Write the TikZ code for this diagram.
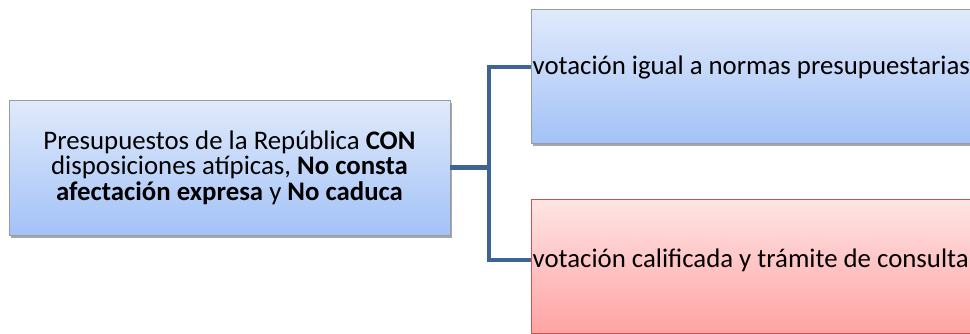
\documentclass[tikz,border=0pt]{standalone}
\usepackage{fontspec}
\setmainfont{Carlito}
\usetikzlibrary{shadows}
\definecolor{linec}{RGB}{62,100,150}
\definecolor{bluetop}{RGB}{224,234,251}
\definecolor{bluebot}{RGB}{163,194,247}
\definecolor{bluedraw}{RGB}{150,155,165}
\definecolor{redtop}{RGB}{255,228,228}
\definecolor{redbot}{RGB}{255,163,163}
\definecolor{reddraw}{RGB}{195,85,82}
\tikzset{
  boxshadow/.style={drop shadow={shadow xshift=2pt, shadow yshift=-3pt, opacity=0.35, fill=black}},
  bluebox/.style={draw=bluedraw, line width=0.8pt, top color=bluetop, bottom color=bluebot, boxshadow, inner sep=0pt},
  redbox/.style={draw=reddraw, line width=0.8pt, top color=redtop, bottom color=redbot, boxshadow, inner sep=0pt},
  txt/.style={font=\fontsize{26.8}{25.5}\selectfont, text=black, inner ysep=0pt, inner xsep=1.5pt},
  conn/.style={draw=linec, line width=4.5pt, line join=miter}
}
\begin{document}
\begin{tikzpicture}[x=1pt,y=-1pt]
\useasboundingbox (0,0) rectangle (970,333);
\clip (0,0) rectangle (970,333);
% left box
\node[bluebox, minimum width=441pt, minimum height=135pt, align=center, txt] (L) at (229.5,167.5)
  {Presupuestos de la República \textbf{CON}\\disposiciones atípicas, \textbf{No consta}\\\textbf{afectación expresa} y \textbf{No caduca}};
% right boxes
\node[bluebox, minimum width=470pt, minimum height=134pt, anchor=north west] (A) at (531,9) {};
\node[redbox, minimum width=470pt, minimum height=134pt, anchor=north west] (B) at (531,199) {};
\node[txt, anchor=west] (At) at (531,67) {votación igual a normas presupuestarias};
\node[txt, anchor=west] (Bt) at (531,260) {votación calificada y trámite de consulta};
% connectors
\coordinate (J) at (489,167.5);
\draw[conn] (L.east) -- (J);
\draw[conn] (J) |- (At.west);
\draw[conn] (J) |- (Bt.west);
\end{tikzpicture}
\end{document}
